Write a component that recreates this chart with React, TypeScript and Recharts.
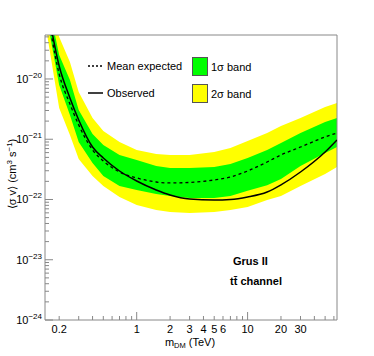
import React from 'react';
import { ComposedChart, Area, Line, XAxis, YAxis, ReferenceArea } from 'recharts';

// DM mass (TeV)
const masses = [0.15, 0.2, 0.25, 0.3, 0.4, 0.5, 0.7, 1, 1.5, 2, 3, 5, 7, 10, 15, 20, 30, 50, 64];
// <sigma v> limits (cm^3 s^-1)
const observed = [2.48e-19, 1.64e-20, 4.84e-21, 2.09e-21, 7.43e-22, 4.89e-22, 2.97e-22, 2.03e-22, 1.44e-22, 1.19e-22, 1.02e-22, 9.8e-23, 1.0e-22, 1.1e-22, 1.33e-22, 1.75e-22, 2.86e-22, 6.14e-22, 9.73e-22];
const expected = [2.3e-19, 1.21e-20, 3.85e-21, 1.73e-21, 6.64e-22, 4.36e-22, 2.86e-22, 2.28e-22, 1.95e-22, 1.88e-22, 1.92e-22, 2.11e-22, 2.36e-22, 2.97e-22, 4.19e-22, 5.48e-22, 7.43e-22, 1.09e-21, 1.27e-21];
const sigma1High = [3.12e-19, 2.5e-20, 9.6e-21, 3.05e-21, 1.22e-21, 8.04e-22, 5.48e-22, 4.53e-22, 3.6e-22, 3.33e-22, 3.33e-22, 3.46e-22, 3.88e-22, 4.89e-22, 6.64e-22, 8.67e-22, 1.27e-21, 1.93e-21, 2.25e-21];
const sigma1Low = [1.4e-19, 7.94e-21, 2.52e-21, 9.0e-22, 4.04e-22, 2.45e-22, 1.67e-22, 1.44e-22, 1.23e-22, 1.14e-22, 1.06e-22, 1.06e-22, 1.14e-22, 1.4e-22, 1.73e-22, 2.19e-22, 3.6e-22, 5.92e-22, 7.43e-22];
const sigma2High = [4.4e-19, 4.98e-20, 1.91e-20, 6.08e-21, 2.25e-21, 1.37e-21, 9.0e-22, 6.64e-22, 5.69e-22, 5.48e-22, 5.48e-22, 6.14e-22, 7.16e-22, 9.35e-22, 1.27e-21, 1.66e-21, 2.25e-21, 3.43e-21, 4.0e-21];
const sigma2Low = [8.18e-20, 3.3e-21, 1.18e-21, 4.7e-22, 2.45e-22, 1.67e-22, 1.1e-22, 8.11e-23, 6.7e-23, 6.21e-23, 5.97e-23, 6.21e-23, 6.7e-23, 7.52e-23, 9.8e-23, 1.14e-22, 1.67e-22, 2.65e-22, 3.46e-22];

// Axis ticks
const xTicks = [0.2, 0.3, 0.4, 0.5, 0.6, 0.7, 0.8, 0.9, 1, 2, 3, 4, 5, 6, 7, 8, 9, 10, 20, 30, 40, 50, 60];
const xMajor = [1, 10];
const xLabels = [0.2, 1, 2, 3, 4, 5, 6, 10, 20, 30];
const yDecades = [1e-24, 1e-23, 1e-22, 1e-21, 1e-20];
const yExponents = [-24, -23, -22, -21, -20];
const yMantissas = [1, 2, 3, 4, 5, 6, 7, 8, 9];

const X_DOMAIN = [0.149, 64];
const Y_DOMAIN = [1e-24, 5.37e-20];

const yTicks: number[] = [];
yDecades.forEach((d) => yMantissas.forEach((k) => { const v = k * d; if (v <= Y_DOMAIN[1]) yTicks.push(v); }));

const data = masses.map((m, i) => ({
  m,
  obs: observed[i],
  exp: expected[i],
  band1: [sigma1Low[i], sigma1High[i]],
  band2: [sigma2Low[i], sigma2High[i]],
}));

const FONT = '"Liberation Sans", Arial, Helvetica, sans-serif';
const AXIS = '#888888';

const XTick = (props: any) => {
  const { x, y, payload } = props;
  const v = payload.value;
  const len = xMajor.includes(v) ? 8 : 4;
  return (
    <g>
      <line x1={x} y1={y} x2={x} y2={y - len} stroke={AXIS} strokeWidth={1} />
      {xLabels.includes(v) && (
        <text x={x} y={y + 13} textAnchor="middle" fontSize={11} fontFamily={FONT} fill="#000">{String(v)}</text>
      )}
    </g>
  );
};

const YTick = (props: any) => {
  const { x, y, payload } = props;
  const v = payload.value;
  const idx = yDecades.findIndex((d) => Math.abs(v / d - 1) < 1e-6);
  const major = idx >= 0;
  const len = major ? 8 : 4;
  return (
    <g>
      <line x1={x} y1={y} x2={x + len} y2={y} stroke={AXIS} strokeWidth={1} />
      {major && (
        <text x={x - 3} y={y + 4} textAnchor="end" fontSize={11} fontFamily={FONT} fill="#000">
          10<tspan dy={-5} fontSize={8}>{'\u2212' + Math.abs(yExponents[idx])}</tspan>
        </text>
      )}
    </g>
  );
};

export default function App() {
  return (
    <div style={{ position: 'absolute', left: 0, top: 0, width: 374, height: 356, background: '#fff' }}>
      <ComposedChart width={374} height={356} data={data} margin={{ top: 35, right: 37, bottom: 0, left: 0 }}>
        <XAxis dataKey="m" type="number" scale="log" domain={X_DOMAIN} allowDataOverflow ticks={xTicks}
          tick={<XTick />} tickSize={0} tickMargin={0} axisLine={false} tickLine={false} height={36} interval={0} />
        <YAxis type="number" scale="log" domain={Y_DOMAIN} allowDataOverflow ticks={yTicks}
          tick={<YTick />} tickSize={0} tickMargin={0} axisLine={false} tickLine={false} width={45} interval={0} />
        <Area dataKey="band2" type="linear" fill="#ffff00" fillOpacity={1} stroke="none" isAnimationActive={false} dot={false} activeDot={false} />
        <Area dataKey="band1" type="linear" fill="#00ff00" fillOpacity={1} stroke="none" isAnimationActive={false} dot={false} activeDot={false} />
        <Line dataKey="exp" type="monotone" stroke="#000" strokeWidth={1.3} strokeDasharray="3 3" dot={false} activeDot={false} isAnimationActive={false} />
        <Line dataKey="obs" type="monotone" stroke="#000" strokeWidth={1.5} dot={false} activeDot={false} isAnimationActive={false} />
        <ReferenceArea x1={X_DOMAIN[0]} x2={X_DOMAIN[1]} y1={Y_DOMAIN[0]} y2={Y_DOMAIN[1]} fill="none" fillOpacity={0} stroke={AXIS} strokeWidth={1} />
      </ComposedChart>
      <svg width={374} height={356} style={{ position: 'absolute', left: 0, top: 0, pointerEvents: 'none' }} fontFamily={FONT}>
        {/* legend */}
        <line x1={88} y1={66} x2={103} y2={66} stroke="#000" strokeWidth={1.3} strokeDasharray="2 2" />
        <text x={107} y={70} fontSize={11} fill="#000">Mean expected</text>
        <line x1={88} y1={93} x2={103} y2={93} stroke="#000" strokeWidth={1.5} />
        <text x={107} y={97} fontSize={11} fill="#000">Observed</text>
        <rect x={192.5} y={57.5} width={15} height={18} fill="#00ff00" stroke="#555" strokeWidth={1} />
        <text x={211} y={71} fontSize={11} fill="#000">1σ band</text>
        <rect x={192.5} y={84.5} width={15} height={18} fill="#ffff00" stroke="#555" strokeWidth={1} />
        <text x={211} y={98} fontSize={11} fill="#000">2σ band</text>
        {/* annotations */}
        <text x={233} y={265} fontSize={11} fontWeight="bold" fill="#000">Grus II</text>
        <text x={230} y={285} fontSize={11} fontWeight="bold" fill="#000">t{'t\u0304'} channel</text>
        {/* axis titles */}
        <text x={190} y={346} fontSize={11} textAnchor="middle" fill="#000">
          m<tspan dy={2} fontSize={7.5}>DM</tspan><tspan dy={-2}> (TeV)</tspan>
        </text>
        <text transform="translate(16,174) rotate(-90)" fontSize={11} textAnchor="middle" fill="#000">
          {'\u27E8σ v\u27E9 (cm'}<tspan dy={-4} fontSize={8}>3</tspan><tspan dy={4}> s</tspan><tspan dy={-4} fontSize={8}>{'\u22121'}</tspan><tspan dy={4}>)</tspan>
        </text>
      </svg>
    </div>
  );
}
